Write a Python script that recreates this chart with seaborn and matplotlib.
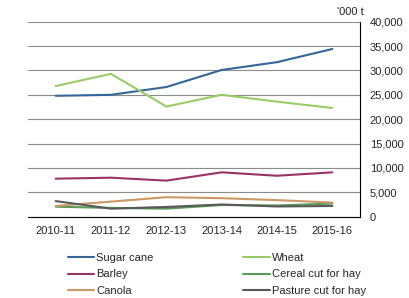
import pandas as pd
import seaborn as sns
import matplotlib.pyplot as plt

# Production by crop ('000 t)
years = ["2010-11", "2011-12", "2012-13", "2013-14", "2014-15", "2015-16"]
sugar_cane = [24800, 25000, 26600, 30100, 31700, 34400]
wheat = [26800, 29300, 22600, 25000, 23600, 22300]
barley = [7800, 8000, 7400, 9100, 8400, 9100]
cereal_hay = [2050, 1800, 1650, 2400, 2300, 2700]
canola = [2200, 3100, 4000, 3800, 3400, 2900]
pasture_hay = [3200, 1650, 2000, 2500, 2100, 2200]

series = {
    "Sugar cane": sugar_cane,
    "Wheat": wheat,
    "Barley": barley,
    "Cereal cut for hay": cereal_hay,
    "Canola": canola,
    "Pasture cut for hay": pasture_hay,
}
colors = {
    "Sugar cane": "#336699",
    "Wheat": "#99CC66",
    "Barley": "#993366",
    "Cereal cut for hay": "#5A9A58",
    "Canola": "#CC9966",
    "Pasture cut for hay": "#595959",
}

df = pd.DataFrame(series)
df["year"] = years
long_df = df.melt(id_vars="year", var_name="crop", value_name="value")

sns.set_style("white")
plt.rcParams["font.family"] = ["Liberation Sans", "DejaVu Sans"]
plt.rcParams["font.size"] = 8

fig = plt.figure(figsize=(4.1, 2.98), dpi=100)
ax = fig.add_axes([28 / 410, 1 - 216.7 / 298, 332 / 410, 195 / 298])

sns.lineplot(data=long_df, x="year", y="value", hue="crop", palette=colors,
             linewidth=1.5, ax=ax, legend=False)

ax.set_xlim(-0.5, 5.5)
ax.set_ylim(0, 40000)
ax.set_yticks(range(0, 40001, 5000))
ax.set_yticklabels([f"{v:,}" for v in range(0, 40001, 5000)])
ax.yaxis.tick_right()
ax.tick_params(axis="y", length=0, pad=7, labelsize=8)
ax.grid(axis="y", color="#8c8c8c", linewidth=0.8)
ax.set_axisbelow(True)

ax.set_xticks(range(len(years)))
ax.set_xticklabels(years)
ax.set_xticks([i - 0.5 for i in range(len(years) + 1)], minor=True)
ax.tick_params(axis="x", which="major", length=0, pad=6.5, labelsize=8)
ax.tick_params(axis="x", which="minor", length=4, direction="out", color="black", width=0.8)

for s in ["left", "top"]:
    ax.spines[s].set_visible(False)
ax.spines["bottom"].set_color("black")
ax.spines["right"].set_color("black")
ax.spines["bottom"].set_linewidth(0.8)
ax.spines["right"].set_linewidth(0.8)
ax.set_xlabel("")
ax.set_ylabel("")

fig.text(364 / 410, 1 - 12 / 298, "'000 t", ha="right", va="center", fontsize=8)

order = ["Sugar cane", "Barley", "Canola", "Wheat", "Cereal cut for hay", "Pasture cut for hay"]
handles = [plt.Line2D([], [], color=colors[k], linewidth=1.5) for k in order]
fig.legend(handles, order, loc="upper left", bbox_to_anchor=(62 / 410, 1 - 247 / 298),
           ncol=2, frameon=False, borderpad=0, handlelength=2.4, handletextpad=0.2,
           columnspacing=8.05, labelspacing=0.62, fontsize=8)

fig.savefig("out.png", dpi=100)
